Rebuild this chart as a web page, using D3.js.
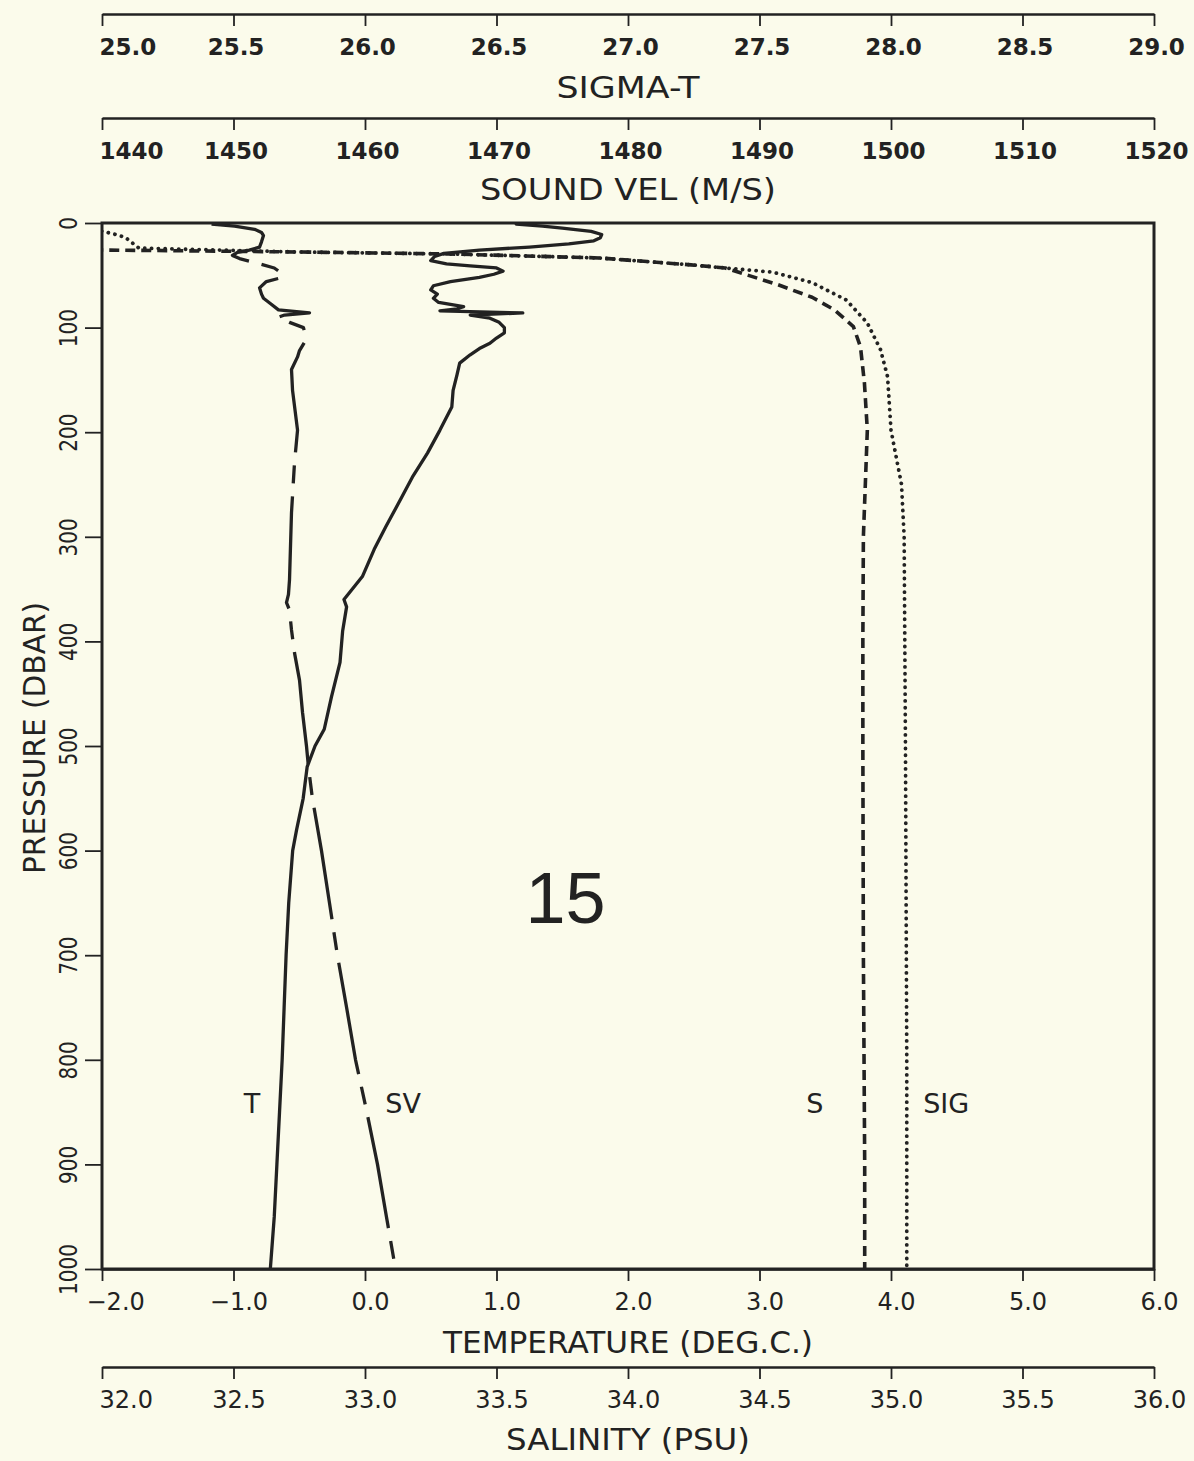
<!DOCTYPE html>
<html>
<head>
<meta charset="utf-8">
<script src="https://cdn.jsdelivr.net/npm/d3@7"></script>
<style>
body { margin: 0; background: #fbfbeb; }
svg { display: block; }
text { font-family: "DejaVu Sans", sans-serif; fill: #222; }
</style>
</head>
<body>
<div id="chart"></div>
<script>
// tick values for the five axes
var presTicks = [0, 100, 200, 300, 400, 500, 600, 700, 800, 900, 1000];
var tempTicks = [-2, -1, 0, 1, 2, 3, 4, 5, 6];
var salTicks = [32, 32.5, 33, 33.5, 34, 34.5, 35, 35.5, 36];
var svTicks = [1440, 1450, 1460, 1470, 1480, 1490, 1500, 1510, 1520];
var sigTicks = [25, 25.5, 26, 26.5, 27, 27.5, 28, 28.5, 29];

// profiles, [pressure (dbar), value]
var tempData = [[1,1.15],[3,1.35],[5,1.50],[8,1.72],[11,1.80],[14,1.79],[17,1.74],[20,1.55],[23,1.25],
  [26,0.87],[29,0.60],[32,0.53],[36,0.50],[39,0.62],[41,0.80],[43,1.00],[46,1.05],[49,0.98],[52,0.87],
  [56,0.65],[60,0.52],[64,0.50],[68,0.55],[72,0.52],[76,0.56],[80,0.75],[82,0.70],[84,0.57],[86,1.20],
  [88,0.80],[91,0.95],[95,1.02],[100,1.06],[105,1.06],[110,1.00],[115,0.95],[120,0.87],[126,0.80],
  [134,0.72],[145,0.70],[160,0.67],[176,0.66],[198,0.57],[220,0.475],[243,0.36],[262,0.28],[290,0.16],
  [312,0.07],[338,-0.02],[360,-0.16],[367,-0.14],[390,-0.17],[420,-0.19],[453,-0.255],[484,-0.31],
  [500,-0.38],[520,-0.44],[550,-0.47],[580,-0.52],[600,-0.55],[650,-0.58],[700,-0.60],[750,-0.615],
  [800,-0.63],[850,-0.65],[900,-0.67],[950,-0.69],[1000,-0.72]];

var svData = [[1,1448.33],[3,1450.08],[6,1451.6],[9,1452.13],[12,1452.28],[18,1452.13],[23,1451.98],
  [26,1451.2],[28,1450.3],[31,1449.92],[34,1450.46],[38,1451.67],[43,1453.1],[48,1453.65],[52,1453.73],
  [56,1452.5],[62,1451.98],[68,1452.13],[72,1452.28],[77,1452.8],[83,1453.42],[86,1455.78],[88,1453.88],
  [90,1453.42],[95,1454.26],[100,1455.32],[108,1455.48],[114,1455.4],[122,1455.02],[128,1454.87],
  [140,1454.41],[160,1454.49],[198,1454.87],[229,1454.64],[277,1454.41],[341,1454.26],[355,1454.18],
  [363,1454.03],[370,1454.26],[389,1454.41],[411,1454.64],[437,1455.02],[468,1455.25],[500,1455.55],
  [520,1455.7],[550,1456.0],[600,1456.69],[650,1457.3],[700,1457.9],[750,1458.6],[800,1459.28],
  [848,1460.11],[900,1460.95],[950,1461.63],[1000,1462.32]];

var salData = [[0,31.0],[22,31.6],[25.8,31.99],[27.7,32.75],[29.6,33.32],[33.4,33.89],[40,34.24],
  [43,34.37],[59,34.57],[71,34.70],[83,34.785],[99,34.857],[118.5,34.884],[153,34.899],[198,34.91],
  [300,34.895],[400,34.893],[500,34.893],[700,34.895],[900,34.90],[1000,34.90]];

var sigData = [[0,24.9],[8,25.0],[9.6,25.03],[11.5,25.06],[14,25.09],[24,25.14],[27.7,25.75],[29.6,26.32],
  [33.4,26.89],[40,27.24],[43,27.37],[47,27.55],[57,27.70],[73.6,27.83],[95.6,27.91],[121,27.96],
  [147,27.987],[198,28.00],[250,28.04],[300,28.05],[500,28.055],[800,28.06],[1000,28.06]];

// curve names, anchored in temperature units at 841 dbar
var curveNames = ["T", "SV", "S", "SIG"];
var curveNameTemp = [-0.86, 0.29, 3.42, 4.42];
var stationNo = "15";

var width = 1194, height = 1461;
var frameL = 102, frameR = 1154, frameT = 223, frameB = 1269;

var svg = d3.select("#chart").append("svg")
    .attr("width", width)
    .attr("height", height);

svg.append("rect")
    .attr("width", width)
    .attr("height", height)
    .attr("fill", "#fbfbeb");

var y = d3.scaleLinear().domain([0, 1000]).range([frameT, frameB]);
var xT = d3.scaleLinear().domain([-2, 6]).range([frameL, frameR]);
var xS = d3.scaleLinear().domain([32, 36]).range([frameL, frameR]);
var xSV = d3.scaleLinear().domain([1440, 1520]).range([frameL, frameR]);
var xSig = d3.scaleLinear().domain([25, 29]).range([frameL, frameR]);

var ink = "#222";

// horizontal axis with ticks hanging down, labels under it
function hAxis(scale, ticks, yPos, fmt, bold, firstDx, title, titleY, titleLen) {
  var g = svg.append("g")
      .attr("transform", "translate(0," + yPos + ")")
      .call(d3.axisBottom(scale)
          .tickValues(ticks)
          .tickSize(12)
          .tickSizeOuter(0)
          .tickFormat(fmt))
      .attr("font-family", null)
      .attr("font-size", null);
  g.select(".domain").attr("stroke", ink).attr("stroke-width", 2.5);
  g.selectAll(".tick line").attr("stroke", ink).attr("stroke-width", 1.8);
  g.selectAll(".tick text")
      .attr("y", 41)
      .attr("dy", 0)
      .attr("fill", ink)
      .style("font-size", bold ? "23px" : "24px")
      .style("font-weight", bold ? "bold" : "normal")
      .attr("text-anchor", function(d, i) { return i == 0 ? "start" : "middle"; })
      .attr("x", function(d, i) { return i == 0 ? firstDx : (bold ? 2 : 5); });

  svg.append("text")
      .attr("x", (frameL + frameR) / 2)
      .attr("y", titleY)
      .attr("text-anchor", "middle")
      .attr("textLength", titleLen)
      .attr("lengthAdjust", "spacingAndGlyphs")
      .style("font-size", "31px")
      .text(title);
}

var f1 = d3.format(".1f");
hAxis(xSig, sigTicks, 14, f1, true, -3, "SIGMA-T", 98, 143);
hAxis(xSV, svTicks, 118, d3.format("d"), true, -3, "SOUND VEL (M/S)", 200, 296);
hAxis(xT, tempTicks, frameB, function(d) { return f1(d).replace("-", "\u2212"); },
      false, -16, "TEMPERATURE (DEG.C.)", 1353, 370);
hAxis(xS, salTicks, 1367, f1, false, -3, "SALINITY (PSU)", 1450, 244);

// pressure axis, labels turned on their side
var ga = svg.append("g")
    .attr("transform", "translate(" + frameL + ",0)")
    .call(d3.axisLeft(y).tickValues(presTicks).tickSize(17).tickSizeOuter(0)
        .tickFormat(d3.format("d")))
    .attr("font-family", null)
    .attr("font-size", null);
ga.select(".domain").remove();
ga.selectAll(".tick line").attr("stroke", ink).attr("stroke-width", 1.8);
ga.selectAll(".tick text")
    .attr("x", 0)
    .attr("dy", 0)
    .attr("text-anchor", "middle")
    .attr("fill", ink)
    .attr("transform", "translate(-25,0) rotate(-90) scale(0.8,1)")
    .style("font-size", "25px");

svg.append("text")
    .attr("transform", "translate(45," + ((frameT + frameB) / 2 - 8) + ") rotate(-90)")
    .attr("text-anchor", "middle")
    .attr("textLength", 272)
    .attr("lengthAdjust", "spacingAndGlyphs")
    .style("font-size", "31px")
    .text("PRESSURE (DBAR)");

// profiles
svg.append("clipPath").attr("id", "clip")
  .append("rect")
    .attr("x", frameL).attr("y", frameT)
    .attr("width", frameR - frameL).attr("height", frameB - frameT);

var plot = svg.append("g").attr("clip-path", "url(#clip)");

function profile(data, xs, w, dash, cap) {
  plot.append("path")
      .datum(data)
      .attr("fill", "none")
      .attr("stroke", ink)
      .attr("stroke-width", w)
      .attr("stroke-linejoin", "round")
      .attr("stroke-linecap", cap)
      .attr("stroke-dasharray", dash)
      .attr("d", d3.line()
          .x(function(d) { return xs(d[1]); })
          .y(function(d) { return y(d[0]); }));
}

profile(sigData, xSig, 3.8, "0.1 6.7", "round");
profile(salData, xS, 3.6, "10 6", "butt");
profile(svData, xSV, 3.3, "113 13 18 13", "butt");
profile(tempData, xT, 3.3, null, "round");

// frame
svg.append("rect")
    .attr("x", frameL).attr("y", frameT)
    .attr("width", frameR - frameL).attr("height", frameB - frameT)
    .attr("fill", "none")
    .attr("stroke", ink)
    .attr("stroke-width", 3);

// curve names
svg.selectAll(".cname")
    .data(curveNames)
  .enter().append("text")
    .attr("class", "cname")
    .attr("x", function(d, i) { return xT(curveNameTemp[i]); })
    .attr("y", y(841) + 10)
    .attr("text-anchor", "middle")
    .style("font-size", "27px")
    .text(function(d) { return d; });

svg.append("text")
    .attr("x", xT(1.525))
    .attr("y", y(644) + 26)
    .attr("text-anchor", "middle")
    .style("font-size", "72px")
    .style("font-family", "Liberation Sans, sans-serif")
    .text(stationNo);
</script>
</body>
</html>
